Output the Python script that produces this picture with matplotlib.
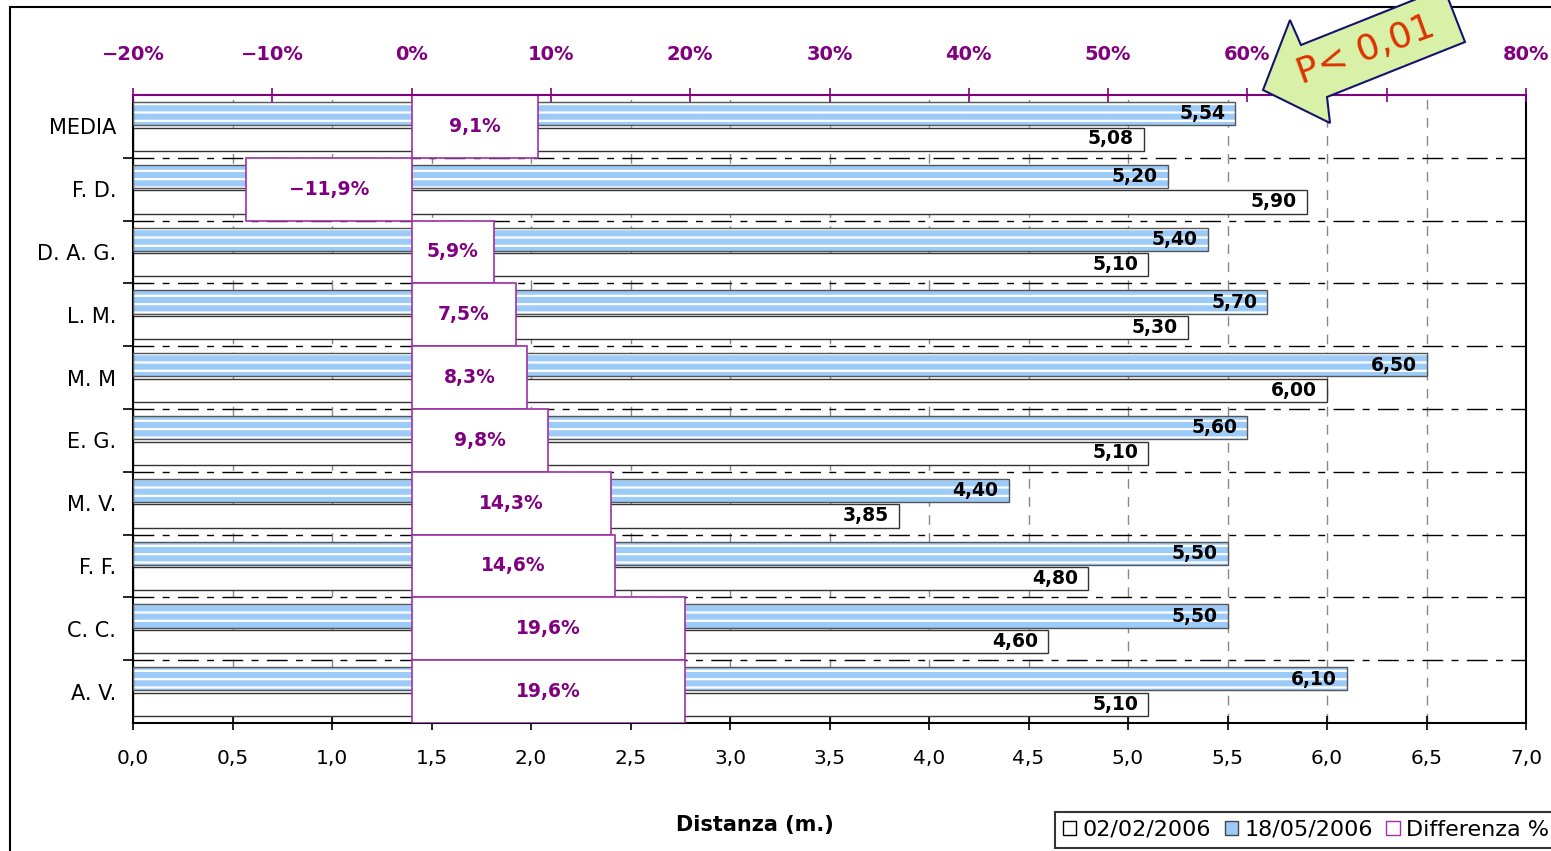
import matplotlib
matplotlib.use("Agg")
import matplotlib.pyplot as plt
import numpy as np
from matplotlib.patches import Patch, Polygon, Rectangle
from matplotlib.ticker import FuncFormatter, MultipleLocator

categories = ["MEDIA", "F. D.", "D. A. G.", "L. M.", "M. M", "E. G.", "M. V.", "F. F.", "C. C.", "A. V."]
dist_feb = [5.08, 5.90, 5.10, 5.30, 6.00, 5.10, 3.85, 4.80, 4.60, 5.10]
dist_may = [5.54, 5.20, 5.40, 5.70, 6.50, 5.60, 4.40, 5.50, 5.50, 6.10]
diff_pct = [9.1, -11.9, 5.9, 7.5, 8.3, 9.8, 14.3, 14.6, 19.6, 19.6]

PURPLE = "#800080"
EDGE_PURPLE = "#a030a8"
BLUE = "#9ccbf8"

plt.rcParams["hatch.linewidth"] = 1.6
plt.rcParams["font.family"] = "DejaVu Sans"

fig = plt.figure(figsize=(15.51, 8.51), dpi=100)
fig.patch.set_facecolor("white")
ax = fig.add_axes([133 / 1551, 1 - 723 / 851, (1526 - 133) / 1551, (723 - 95) / 851])

# first category at the top
y = np.arange(len(categories))[::-1]
bh = 0.37

ax.barh(y + 0.205, dist_may, height=bh, color=BLUE, edgecolor="white", hatch="--", linewidth=0, zorder=2)
ax.barh(y + 0.205, dist_may, height=bh, fill=False, edgecolor="#555555", linewidth=1.0, zorder=3)
ax.barh(y - 0.205, dist_feb, height=bh, color="white", edgecolor="#333333", linewidth=1.0, zorder=2)

def comma(v, digits):
    return f"{v:.{digits}f}".replace(".", ",")

for yi, a, b in zip(y, dist_may, dist_feb):
    ax.text(a - 0.05, yi + 0.2, comma(a, 2), ha="right", va="center",
            fontsize=13.5, fontweight="bold", zorder=4)
    ax.text(b - 0.05, yi - 0.2, comma(b, 2), ha="right", va="center",
            fontsize=13.5, fontweight="bold", zorder=4)

ax.set_xlim(0, 7)
ax.set_ylim(-0.5, len(categories) - 0.5)
ax.xaxis.set_major_locator(MultipleLocator(0.5))
ax.xaxis.set_major_formatter(FuncFormatter(lambda v, p: comma(v, 1)))
ax.set_yticks(y)
ax.set_yticklabels(categories)
ax.set_yticks(np.arange(len(categories) - 1) + 0.5, minor=True)
ax.tick_params(axis="y", which="major", length=0, labelsize=15, pad=12)
ax.tick_params(axis="y", which="minor", length=7, width=1.2, direction="out")
ax.tick_params(axis="x", which="major", length=10, width=1.2, direction="inout",
               labelsize=14.5, pad=14)
ax.set_axisbelow(True)
ax.grid(axis="x", which="major", color="#888888", linestyle=(0, (7, 6)), linewidth=1)
ax.grid(axis="y", which="minor", color="black", linestyle=(0, (15, 6, 5, 6)), linewidth=1)
for side in ["left", "bottom", "right"]:
    ax.spines[side].set_linewidth(1.5)
ax.spines["top"].set_visible(False)

# percentage differences on the top axis
ax2 = ax.twiny()
ax2.barh(y, [d / 100 for d in diff_pct], height=1.0, color="white",
         edgecolor=EDGE_PURPLE, linewidth=1.2, zorder=2)
for yi, d in zip(y, diff_pct):
    lab = comma(d, 1).replace("-", "\u2212") + "%"
    ax2.text(d / 200, yi, lab, ha="center", va="center", color=PURPLE,
             fontsize=13.5, fontweight="bold", zorder=4)
ax2.set_xlim(-0.2, 0.8)
ax2.xaxis.set_major_locator(MultipleLocator(0.1))
ax2.xaxis.set_major_formatter(FuncFormatter(lambda v, p: f"{v * 100:.0f}%".replace("-", "\u2212")))
ax2.tick_params(axis="x", which="major", length=10, width=1.2, direction="inout",
                colors=PURPLE, labelsize=14, pad=17)
for lab in ax2.get_xticklabels():
    lab.set_fontweight("bold")
for side in ["left", "bottom", "right"]:
    ax2.spines[side].set_visible(False)
ax2.spines["top"].set_color(PURPLE)
ax2.spines["top"].set_linewidth(1.5)

fig.text(755 / 1551, 1 - 825 / 851, "Distanza (m.)", ha="center", va="center",
         fontsize=15, fontweight="bold")

# outer chart frame
fig.add_artist(Rectangle((10 / 1551, -0.1), 1.2, 1.1 - 7 / 851, transform=fig.transFigure,
                         fill=False, edgecolor="black", linewidth=1.5))

handles = [
    Patch(facecolor="white", edgecolor="black", linewidth=1),
    Patch(facecolor=BLUE, edgecolor="#444444", linewidth=1),
    Patch(facecolor="white", edgecolor=EDGE_PURPLE, linewidth=1),
]
leg = fig.legend(handles, ["02/02/2006", "18/05/2006", "Differenza %"],
                 loc="upper left", bbox_to_anchor=(1055 / 1551, 1 - 812 / 851),
                 ncol=3, fontsize=16, frameon=True, fancybox=False,
                 handlelength=0.6, handleheight=0.6, handletextpad=0.3,
                 columnspacing=0.6, borderpad=0.35, borderaxespad=0)
leg.get_frame().set_edgecolor("black")
leg.get_frame().set_linewidth(1.5)

# callout arrow in pixel coordinates
over = fig.add_axes([0, 0, 1, 1], zorder=10)
over.set_xlim(0, 1551)
over.set_ylim(851, 0)
over.axis("off")
arrow_pts = [(1263, 90), (1290, 20), (1301, 45), (1444, -12), (1465, 42), (1327, 97), (1330, 123)]
over.add_patch(Polygon(arrow_pts, closed=True, facecolor="#d8f0a8", edgecolor="#14146e",
                       linewidth=1.5, clip_on=False))
over.text(1366, 50, "P< 0,01", ha="center", va="center", rotation=20,
          color="#dd3300", fontsize=26)

fig.savefig("out.png", dpi=100)
